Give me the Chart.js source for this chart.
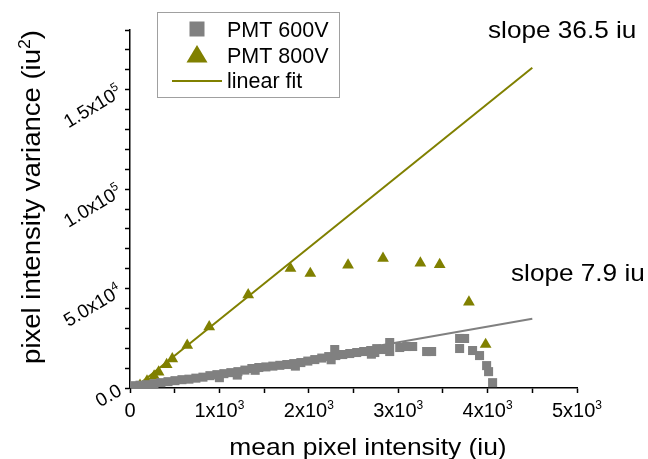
<!DOCTYPE html>
<html>
<head>
<meta charset="utf-8">
<script src="https://cdn.jsdelivr.net/npm/chart.js@4.4.1/dist/chart.umd.min.js"></script>
<style>
    body { margin: 0; background: #fff; }
    canvas { display: block; }
</style>
</head>
<body>
<canvas id="chart" width="648" height="459"></canvas>
<script>
// PMT 600V (grey squares)
const pmt600X = [34, 112, 190, 268, 346, 425, 503, 581, 659, 737, 816, 894, 972, 1000, 1050, 1128, 1200, 1207,
    1285, 1363, 1400, 1441, 1520, 1598, 1676, 1754, 1832, 1850, 1911, 1989, 2067, 2145, 2223, 2250, 2290, 2302,
    2380, 2458, 2536, 2614, 2693, 2700, 2738, 2760, 2816, 2905, 2905, 3017, 3095, 3162, 3318, 3374, 3687, 3743,
    3687, 3832, 3910, 3989, 4011, 4056];
const pmt600Y = [1160, 1410, 1670, 2170, 2680, 3180, 3690, 4190, 4440, 4950, 5450, 6210, 6720, 5200, 7220, 7730, 6500, 8230,
    9000, 9800, 8900, 10300, 10600, 11000, 11400, 11800, 12270, 11000, 12780, 13530, 14290, 15050, 15800, 14200, 19340, 16310,
    16820, 17320, 17830, 18330, 18840, 17000, 17830, 19800, 19340, 22880, 18330, 20350, 20860, 20860, 18330, 18330, 24900, 24900,
    19850, 18840, 16310, 11260, 8230, 2680];

// PMT 800V (olive triangles)
const pmt800X = [112, 190, 270, 320, 410, 473, 640, 886, 1322, 1795, 2017, 2439, 2830, 3248, 3464, 3791, 3978];
const pmt800Y = [1400, 3500, 6000, 8000, 11800, 14700, 21500, 30800, 46800, 60100, 57600, 61800, 65200, 62800, 62100, 43200, 21900];

// linear fits (end points)
const fit800X = [50, 4500];
const fit800Y = [0, 161000];
const fit600X = [90, 4500];
const fit600Y = [0, 34850];

// tick labels: base text + superscript
const xTickVals = [0, 1000, 2000, 3000, 4000, 5000];
const xTickBase = ['0', '1x10', '2x10', '3x10', '4x10', '5x10'];
const xTickSup = ['', '3', '3', '3', '3', '3'];
const yTickVals = [0, 50000, 100000, 150000];
const yTickBase = ['0.0', '5.0x10', '1.0x10', '1.5x10'];
const yTickSup = ['', '4', '5', '5'];

const FONT = "'Liberation Sans', Arial, sans-serif";
const OLIVE = '#808000';
const GREY = '#808080';

function pts(xs, ys) {
    return xs.map((x, i) => ({ x: x, y: ys[i] }));
}

// draws a run of [text, isSuperscript] parts
function drawParts(ctx, parts, x, y, size, align, angle, sx) {
    ctx.save();
    ctx.translate(x, y);
    ctx.rotate(angle || 0);
    ctx.scale(sx || 1, 1);
    ctx.textBaseline = 'alphabetic';
    ctx.textAlign = 'left';
    const supSize = Math.round(size * 0.62);
    let total = 0;
    const widths = parts.map(p => {
        ctx.font = (p[1] ? supSize : size) + 'px ' + FONT;
        const w = ctx.measureText(p[0]).width;
        total += w;
        return w;
    });
    let cx = align === 'center' ? -total / 2 : align === 'right' ? -total : 0;
    parts.forEach((p, i) => {
        ctx.font = (p[1] ? supSize : size) + 'px ' + FONT;
        ctx.fillText(p[0], cx, p[1] ? -size * 0.42 : 0);
        cx += widths[i];
    });
    ctx.restore();
}

const textPlugin = {
    id: 'texts',
    afterDraw(chart) {
        const ctx = chart.ctx;
        const xs = chart.scales.x, ys = chart.scales.y;
        ctx.fillStyle = '#000';

        xTickVals.forEach((v, i) => {
            drawParts(ctx, [[xTickBase[i], false], [xTickSup[i], true]], xs.getPixelForValue(v), 417, 20, 'center');
        });
        yTickVals.forEach((v, i) => {
            drawParts(ctx, [[yTickBase[i], false], [yTickSup[i], true]], 123, ys.getPixelForValue(v) + 6, 19, 'right', -31 * Math.PI / 180);
        });

        drawParts(ctx, [['mean pixel intensity (iu)', false]], 368, 455, 24, 'center', 0, 1.1);
        drawParts(ctx, [['pixel intensity variance (iu', false], ['2', true], [')', false]], 40, 197, 25, 'center', -Math.PI / 2, 1.1);

        drawParts(ctx, [['slope 36.5 iu', false]], 488, 38, 24, 'left', 0, 1.09);
        drawParts(ctx, [['slope 7.9 iu', false]], 511, 281, 24, 'left', 0, 1.09);

        // legend
        ctx.save();
        ctx.fillStyle = '#fff';
        ctx.fillRect(157.5, 12.5, 182, 85);
        ctx.strokeStyle = '#a0a0a0';
        ctx.lineWidth = 1;
        ctx.strokeRect(157.5, 12.5, 182, 85);
        ctx.fillStyle = GREY;
        ctx.fillRect(189.5, 21.5, 15, 15);
        ctx.fillStyle = OLIVE;
        ctx.beginPath();
        ctx.moveTo(197, 45);
        ctx.lineTo(207.5, 62.5);
        ctx.lineTo(186.5, 62.5);
        ctx.closePath();
        ctx.fill();
        ctx.strokeStyle = OLIVE;
        ctx.lineWidth = 2;
        ctx.beginPath();
        ctx.moveTo(172, 81);
        ctx.lineTo(222, 81);
        ctx.stroke();
        ctx.restore();
        ctx.fillStyle = '#000';
        drawParts(ctx, [['PMT 600V', false]], 227, 37, 21.5, 'left');
        drawParts(ctx, [['PMT 800V', false]], 227, 63, 21.5, 'left');
        drawParts(ctx, [['linear fit', false]], 227, 88, 21.5, 'left');
    }
};

const axisCommon = {
    border: { color: '#000', width: 1.5 },
    grid: { drawOnChartArea: false, drawTicks: true, tickLength: 5, tickWidth: 1.5, tickColor: '#000' },
    ticks: { display: false }
};

new Chart(document.getElementById('chart'), {
    type: 'scatter',
    data: {
        datasets: [
            { label: 'PMT 600V', data: pts(pmt600X, pmt600Y), pointStyle: 'rect', pointRadius: 6.4,
              backgroundColor: GREY, borderWidth: 0 },
            { label: 'PMT 800V', data: pts(pmt800X, pmt800Y), pointStyle: 'triangle', pointRadius: 6.8,
              backgroundColor: OLIVE, borderWidth: 0 },
            { label: 'linear fit', data: pts(fit800X, fit800Y), showLine: true, pointRadius: 0,
              borderColor: OLIVE, borderWidth: 2 },
            { label: 'fit 600V', data: pts(fit600X, fit600Y), showLine: true, pointRadius: 0,
              borderColor: GREY, borderWidth: 2 }
        ]
    },
    options: {
        responsive: false,
        animation: false,
        layout: { padding: { top: 30, right: 71, left: 0, bottom: 0 } },
        plugins: { legend: { display: false }, tooltip: { enabled: false } },
        scales: {
            x: { ...axisCommon, min: 0, max: 5000, ticks: { display: false, stepSize: 500 },
                 afterFit: s => { s.height = 71; } },
            y: { ...axisCommon, min: 0, max: 180000, ticks: { display: false, stepSize: 10000 },
                 afterFit: s => { s.width = 130; } }
        }
    },
    plugins: [textPlugin]
});
</script>
</body>
</html>
